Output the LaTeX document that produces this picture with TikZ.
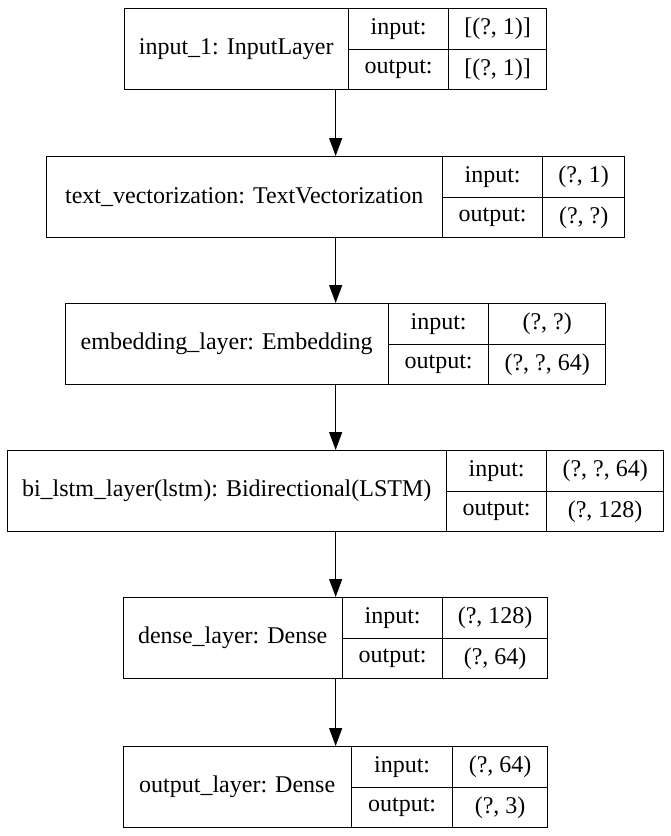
\documentclass[tikz,border=0pt]{standalone}
\usepackage{fontspec}
\setmainfont{Liberation Serif}
\usetikzlibrary{arrows.meta}
\newcommand{\layertext}{\fontsize{24}{28}\selectfont}

\begin{document}
\begin{tikzpicture}[x=1pt,y=-1pt,font=\layertext,
  layerbox/.style={draw=black,line width=1.3pt,minimum height=81pt,anchor=north west,inner sep=0pt},
  namebox/.style={minimum height=81pt,anchor=north west,inner sep=0pt},
  cellbox/.style={draw=black,line width=1.3pt,minimum height=40.5pt,anchor=north west,inner sep=0pt},
  flow/.style={-{Triangle[length=18pt,width=13pt]},line width=1.3pt}]
\useasboundingbox (0,0) rectangle (670,836);
% input layer
\node[layerbox,minimum width=422pt] (b1) at (124,8) {};
\node[namebox,minimum width=224pt] (b1name) at (124,8) {input\_1: InputLayer};
\node[cellbox,minimum width=100pt] (b1inl) at (348,8) {input:};
\node[cellbox,minimum width=100pt] (b1outl) at (348,48.5) {output:};
\node[cellbox,minimum width=98pt] (b1inv) at (448,8) {[(?, 1)]};
\node[cellbox,minimum width=98pt] (b1outv) at (448,48.5) {[(?, 1)]};
% text vectorization
\node[layerbox,minimum width=578pt] (b2) at (46,156) {};
\node[namebox,minimum width=396pt] (b2name) at (46,156) {text\_vectorization: TextVectorization};
\node[cellbox,minimum width=100pt] (b2inl) at (442,156) {input:};
\node[cellbox,minimum width=100pt] (b2outl) at (442,196.5) {output:};
\node[cellbox,minimum width=82pt] (b2inv) at (542,156) {(?, 1)};
\node[cellbox,minimum width=82pt] (b2outv) at (542,196.5) {(?, ?)};
% embedding
\node[layerbox,minimum width=540pt] (b3) at (65,303) {};
\node[namebox,minimum width=323pt] (b3name) at (65,303) {embedding\_layer: Embedding};
\node[cellbox,minimum width=100pt] (b3inl) at (388,303) {input:};
\node[cellbox,minimum width=100pt] (b3outl) at (388,343.5) {output:};
\node[cellbox,minimum width=117pt] (b3inv) at (488,303) {(?, ?)};
\node[cellbox,minimum width=117pt] (b3outv) at (488,343.5) {(?, ?, 64)};
% bidirectional lstm
\node[layerbox,minimum width=656pt] (b4) at (7,450) {};
\node[namebox,minimum width=439pt] (b4name) at (7,450) {bi\_lstm\_layer(lstm): Bidirectional(LSTM)};
\node[cellbox,minimum width=100pt] (b4inl) at (446,450) {input:};
\node[cellbox,minimum width=100pt] (b4outl) at (446,490.5) {output:};
\node[cellbox,minimum width=117pt] (b4inv) at (546,450) {(?, ?, 64)};
\node[cellbox,minimum width=117pt] (b4outv) at (546,490.5) {(?, 128)};
% dense
\node[layerbox,minimum width=424pt] (b5) at (123,597) {};
\node[namebox,minimum width=219pt] (b5name) at (123,597) {dense\_layer: Dense};
\node[cellbox,minimum width=100pt] (b5inl) at (342,597) {input:};
\node[cellbox,minimum width=100pt] (b5outl) at (342,637.5) {output:};
\node[cellbox,minimum width=105pt] (b5inv) at (442,597) {(?, 128)};
\node[cellbox,minimum width=105pt] (b5outv) at (442,637.5) {(?, 64)};
% output
\node[layerbox,minimum width=424pt] (b6) at (123,746) {};
\node[namebox,minimum width=228pt] (b6name) at (123,746) {output\_layer: Dense};
\node[cellbox,minimum width=101pt] (b6inl) at (351,746) {input:};
\node[cellbox,minimum width=101pt] (b6outl) at (351,786.5) {output:};
\node[cellbox,minimum width=95pt] (b6inv) at (452,746) {(?, 64)};
\node[cellbox,minimum width=95pt] (b6outv) at (452,786.5) {(?, 3)};
\draw[flow] (b1.south) -- (b2.north);
\draw[flow] (b2.south) -- (b3.north);
\draw[flow] (b3.south) -- (b4.north);
\draw[flow] (b4.south) -- (b5.north);
\draw[flow] (b5.south) -- (b6.north);
\end{tikzpicture}
\end{document}
